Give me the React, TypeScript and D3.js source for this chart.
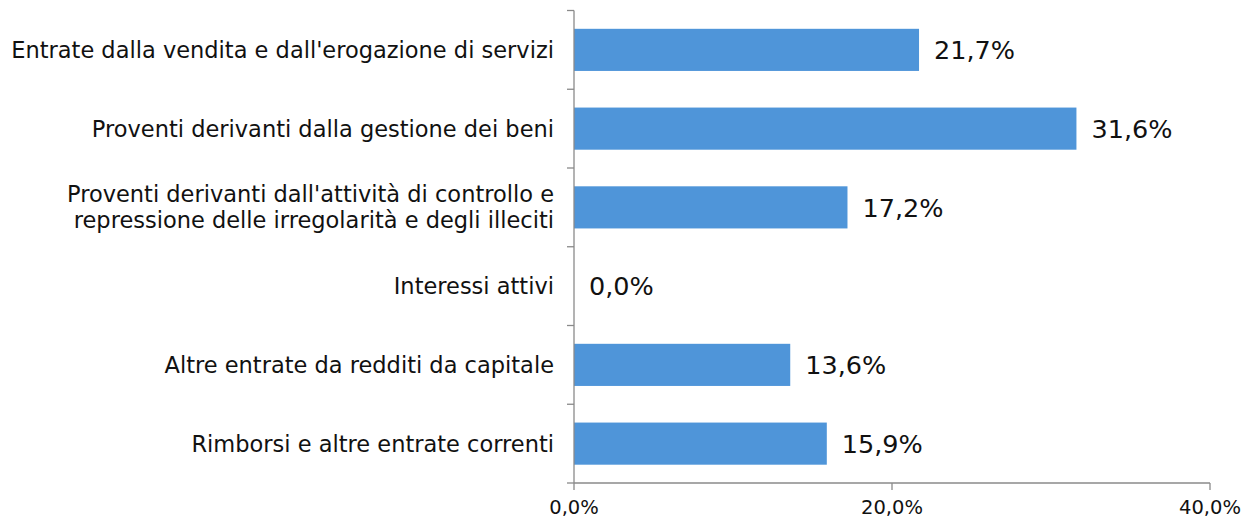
import React, { useEffect, useRef } from "react";
import * as d3 from "d3";

// categories top to bottom, labels split into lines
const categories = [
  "Entrate dalla vendita e dall'erogazione di servizi",
  "Proventi derivanti dalla gestione dei beni",
  "Proventi derivanti dall'attività di controllo e\nrepressione delle irregolarità e degli illeciti",
  "Interessi attivi",
  "Altre entrate da redditi da capitale",
  "Rimborsi e altre entrate correnti",
];
const values = [21.7, 31.6, 17.2, 0.0, 13.6, 15.9];
const xTicks = [0, 20, 40];

const fmt = (v: number) => v.toFixed(1).replace(".", ",") + "%";

export default function App() {
  const ref = useRef<SVGSVGElement>(null);

  useEffect(() => {
    const svg = d3.select(ref.current);
    svg.selectAll("*").remove();

    const font = "'DejaVu Sans', Verdana, sans-serif";
    const axisColor = "#8a8a8a";

    const x = d3.scaleLinear().domain([0, 40]).range([574, 1210]);
    const y = d3.scaleBand().domain(categories).range([10.5, 483]).padding(0);
    const barH = y.bandwidth() * 0.535;

    // bars
    svg.append("g")
      .selectAll("rect")
      .data(values)
      .enter()
      .append("rect")
      .attr("x", x(0))
      .attr("y", (d, i) => y(categories[i])! + (y.bandwidth() - barH) / 2)
      .attr("width", d => x(d) - x(0))
      .attr("height", barH)
      .attr("fill", "#4f95d9");

    // value labels
    svg.append("g")
      .selectAll("text")
      .data(values)
      .enter()
      .append("text")
      .attr("x", d => x(d) + 15)
      .attr("y", (d, i) => y(categories[i])! + y.bandwidth() / 2)
      .attr("dy", "0.36em")
      .attr("font-family", font)
      .attr("font-size", 25.5)
      .attr("fill", "#111")
      .text(d => fmt(d));

    // y axis line + ticks between categories
    const yAxis = svg.append("g");
    yAxis.append("line")
      .attr("x1", x(0)).attr("x2", x(0))
      .attr("y1", 10.5).attr("y2", 483)
      .attr("stroke", axisColor).attr("stroke-width", 1.3);
    const bounds = categories.map(c => y(c)!).concat([483]);
    yAxis.selectAll("line.tick")
      .data(bounds)
      .enter()
      .append("line")
      .attr("class", "tick")
      .attr("x1", x(0) - 7).attr("x2", x(0))
      .attr("y1", d => d).attr("y2", d => d)
      .attr("stroke", axisColor).attr("stroke-width", 1.3);

    // category labels
    const labels = svg.append("g")
      .selectAll("text")
      .data(categories)
      .enter()
      .append("text")
      .attr("text-anchor", "end")
      .attr("font-family", font)
      .attr("font-size", 22.5)
      .attr("fill", "#111");
    labels.each(function (c) {
      const lines = c.split("\n");
      const cy = y(c)! + y.bandwidth() / 2;
      const lh = 26;
      d3.select(this)
        .selectAll("tspan")
        .data(lines)
        .enter()
        .append("tspan")
        .attr("x", 554)
        .attr("y", (l, i) => cy + (i - (lines.length - 1) / 2) * lh)
        .attr("dy", "0.36em")
        .text(l => l);
    });

    // x axis
    const xAxis = svg.append("g");
    xAxis.append("line")
      .attr("x1", x(0)).attr("x2", x(40))
      .attr("y1", 483).attr("y2", 483)
      .attr("stroke", axisColor).attr("stroke-width", 1.3);
    xAxis.selectAll("line.tick")
      .data(xTicks)
      .enter()
      .append("line")
      .attr("class", "tick")
      .attr("x1", d => x(d)).attr("x2", d => x(d))
      .attr("y1", 483).attr("y2", 490)
      .attr("stroke", axisColor).attr("stroke-width", 1.3);
    xAxis.selectAll("text")
      .data(xTicks)
      .enter()
      .append("text")
      .attr("x", d => x(d))
      .attr("y", 507)
      .attr("dy", "0.36em")
      .attr("text-anchor", "middle")
      .attr("font-family", font)
      .attr("font-size", 19.5)
      .attr("fill", "#111")
      .text(d => fmt(d));
  }, []);

  return (
    <svg
      ref={ref}
      width={1243}
      height={519}
      style={{ position: "absolute", left: 0, top: 0, background: "#fff" }}
    />
  );
}
